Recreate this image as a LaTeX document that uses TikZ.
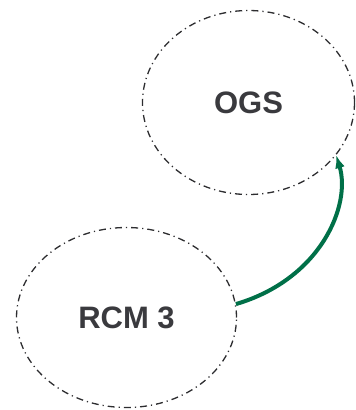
\documentclass[tikz,border=0pt]{standalone}
\usepackage{fontspec}
\setmainfont{Liberation Sans}
\usetikzlibrary{shapes.geometric,arrows.meta}
\definecolor{txtgray}{RGB}{58,58,62}
\definecolor{linegray}{RGB}{45,45,48}
\definecolor{arrowgreen}{RGB}{0,112,72}
\tikzset{
  bubble/.style={ellipse, draw=linegray, line width=1.3pt,
    dash pattern=on 7pt off 4pt on 1.2pt off 4pt, inner sep=0pt,
    font=\fontsize{31}{31}\selectfont\bfseries, text=txtgray},
  link/.style={draw=arrowgreen, line width=4pt,
    -{Latex[length=13pt,width=10pt]}}
}
\begin{document}
\begin{tikzpicture}[x=1pt,y=-1pt]
\useasboundingbox (0,0) rectangle (356,410);
\node[bubble, minimum width=212pt, minimum height=184pt] (ogs) at (248.5,102.5) {OGS};
\node[bubble, minimum width=220pt, minimum height=180pt] (rcm) at (126.5,317.5) {RCM 3};
\draw[link] (rcm.7) .. controls +(85,-25) and +(15,50) .. (ogs.-31);
\end{tikzpicture}
\end{document}
